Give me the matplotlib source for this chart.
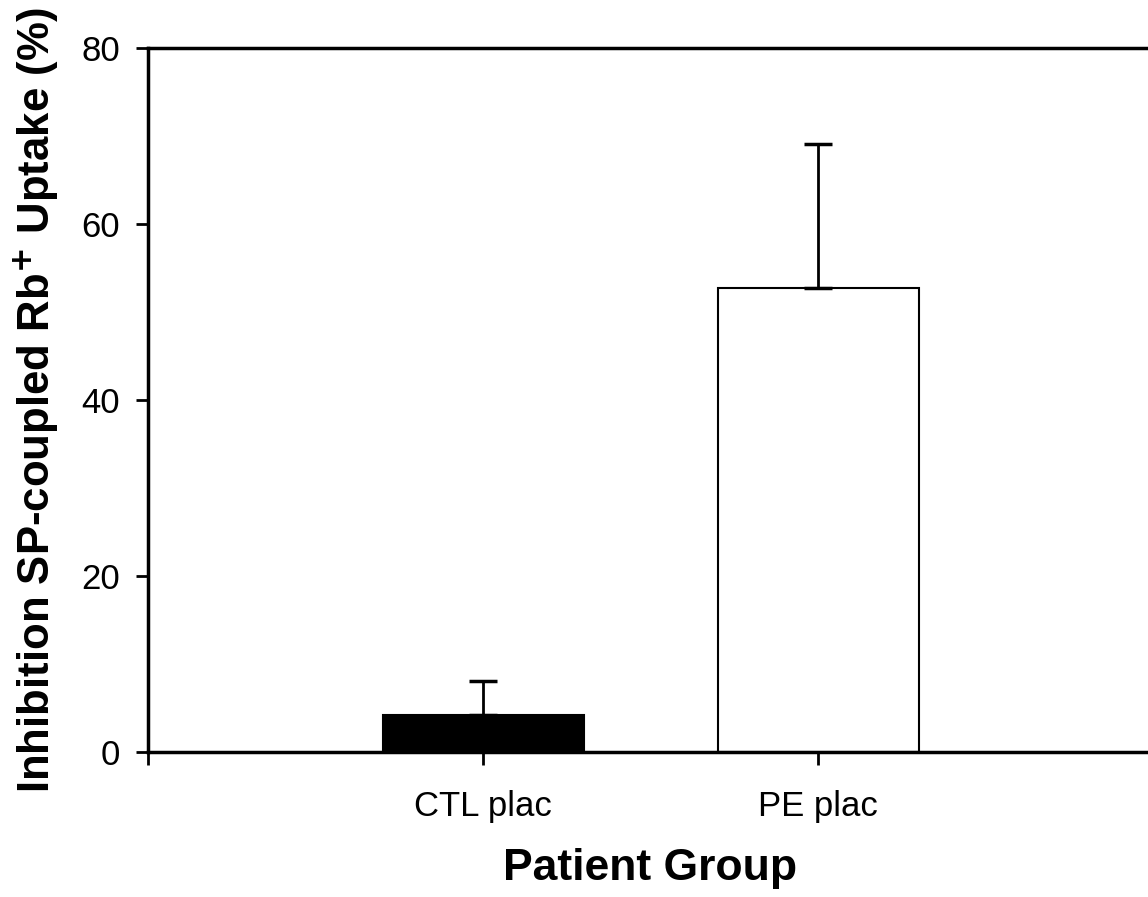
import matplotlib
matplotlib.use("Agg")
import matplotlib.pyplot as plt

plt.rcParams['font.family'] = ['Liberation Sans', 'DejaVu Sans']

# data
groups = ['CTL plac', 'PE plac']
means = [4.2, 52.7]
errors = [3.9, 16.4]
colors = ['black', 'white']
yticks = [0, 20, 40, 60, 80]

fig = plt.figure(figsize=(11.48, 8.97), dpi=100)
ax = fig.add_axes([148 / 1148, 1 - 752 / 897, (1153 - 148) / 1148, (752 - 48) / 897])

pos = list(range(1, len(groups) + 1))
ax.bar(pos, means, width=0.6, color=colors, edgecolor='black', linewidth=1.5, zorder=2)
ax.errorbar(pos, means, yerr=[[0] * len(errors), errors], fmt='none', ecolor='black',
            elinewidth=2, capsize=10, capthick=2.5, zorder=3)

ax.set_xlim(0, len(groups) + 1)
ax.set_ylim(0, 80)
ax.set_yticks(yticks)
ax.set_xticks([0] + pos)
ax.set_xticklabels([''] + groups, fontsize=25)
ax.tick_params(axis='both', direction='out', length=9, width=2)
ax.tick_params(axis='y', labelsize=25, pad=11)
ax.tick_params(axis='x', pad=18)

for s in ['left', 'bottom', 'top']:
    ax.spines[s].set_linewidth(2.5)
ax.spines['right'].set_visible(False)

ax.set_ylabel(r'Inhibition SP-coupled Rb$^{\mathbf{+}}$ Uptake (%)', fontsize=31.5,
              fontweight='bold', labelpad=15)
ax.set_xlabel('Patient Group', fontsize=32, fontweight='bold', labelpad=18)

fig.savefig('out.png', dpi=100)
